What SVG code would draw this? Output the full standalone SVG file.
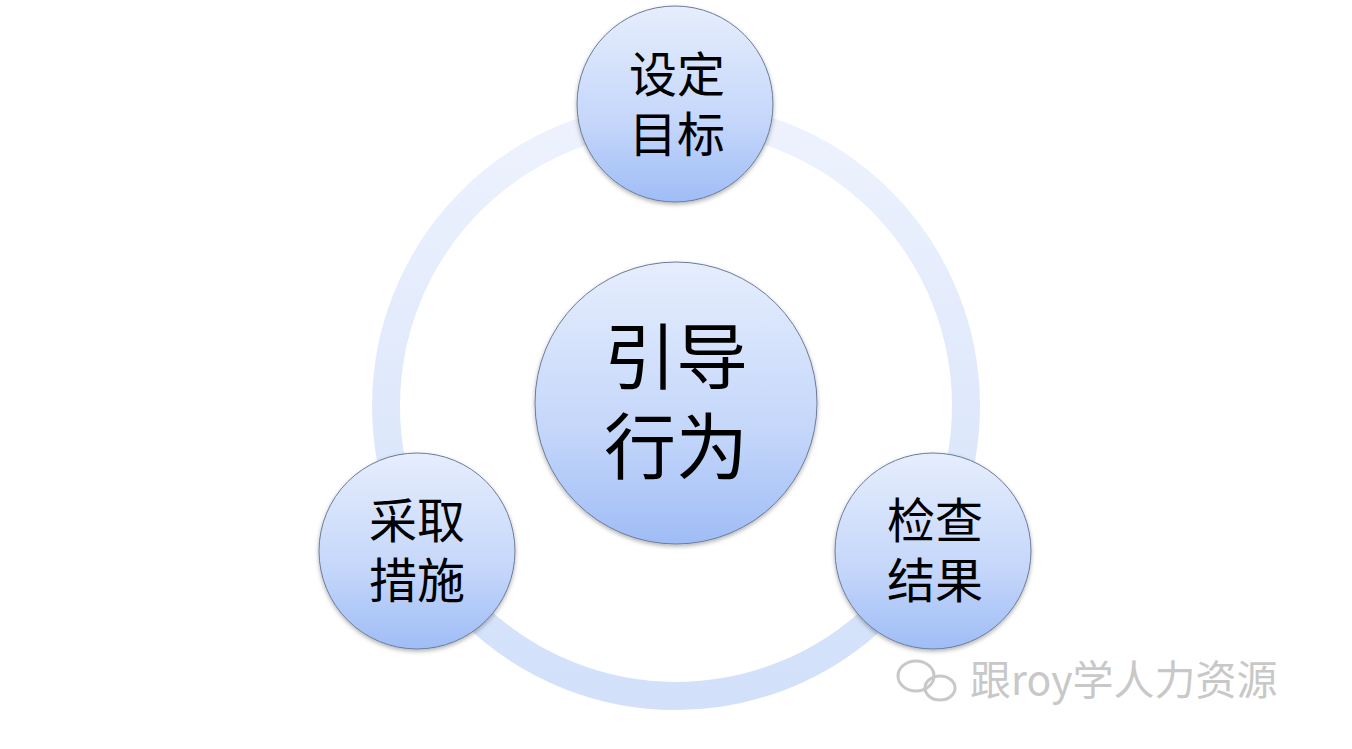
<svg xmlns="http://www.w3.org/2000/svg" width="1352" height="749" viewBox="0 0 1352 749">
<defs>
<linearGradient id="g" x1="0" y1="0" x2="0" y2="1"><stop offset="0" stop-color="#e6eefd"/><stop offset="0.6" stop-color="#c4d6fa"/><stop offset="1" stop-color="#9fbdf6"/></linearGradient>
<linearGradient id="ring" x1="0" y1="0" x2="0" y2="1"><stop offset="0" stop-color="#edf2fd"/><stop offset="1" stop-color="#d2e0fa"/></linearGradient>
<filter id="sh" x="-20%" y="-20%" width="140%" height="140%"><feDropShadow dx="0" dy="2" stdDeviation="2" flood-color="#000" flood-opacity="0.3"/></filter>
</defs>
<style>
.n{fill:url(#g);stroke:#6b7b99;stroke-width:1;filter:url(#sh)}
.t{font-family:"Noto Sans CJK SC",serif;fill:#000;text-anchor:middle}
.w{font-family:"Noto Sans CJK SC",sans-serif;fill:#c8c8c8;font-size:41px}
</style>
<rect width="1352" height="749" fill="#fff"/>
<g id="connectors"><circle cx="676" cy="406" r="290" fill="none" stroke="url(#ring)" stroke-width="28"/></g>
<g id="center"><circle class="n" cx="676" cy="403" r="141"/><text class="t" font-size="72" x="676" y="383">引导</text><text class="t" font-size="72" x="676" y="473">行为</text></g>
<g id="top"><circle class="n" cx="675" cy="104" r="98"/><text class="t" font-size="48" x="677" y="92">设定</text><text class="t" font-size="48" x="677" y="152">目标</text></g>
<g id="left"><circle class="n" cx="417" cy="551" r="98"/><text class="t" font-size="48" x="417" y="538">采取</text><text class="t" font-size="48" x="417" y="598">措施</text></g>
<g id="right"><circle class="n" cx="933" cy="551" r="98"/><text class="t" font-size="48" x="935" y="538">检查</text><text class="t" font-size="48" x="935" y="598">结果</text></g>
<g id="watermark"><ellipse cx="916" cy="676" rx="18" ry="15" fill="none" stroke="#c8c8c8" stroke-width="3"/><ellipse cx="940" cy="688" rx="15" ry="12" fill="none" stroke="#c8c8c8" stroke-width="3"/><text class="w" x="970" y="695">跟roy学人力资源</text></g>
</svg>
